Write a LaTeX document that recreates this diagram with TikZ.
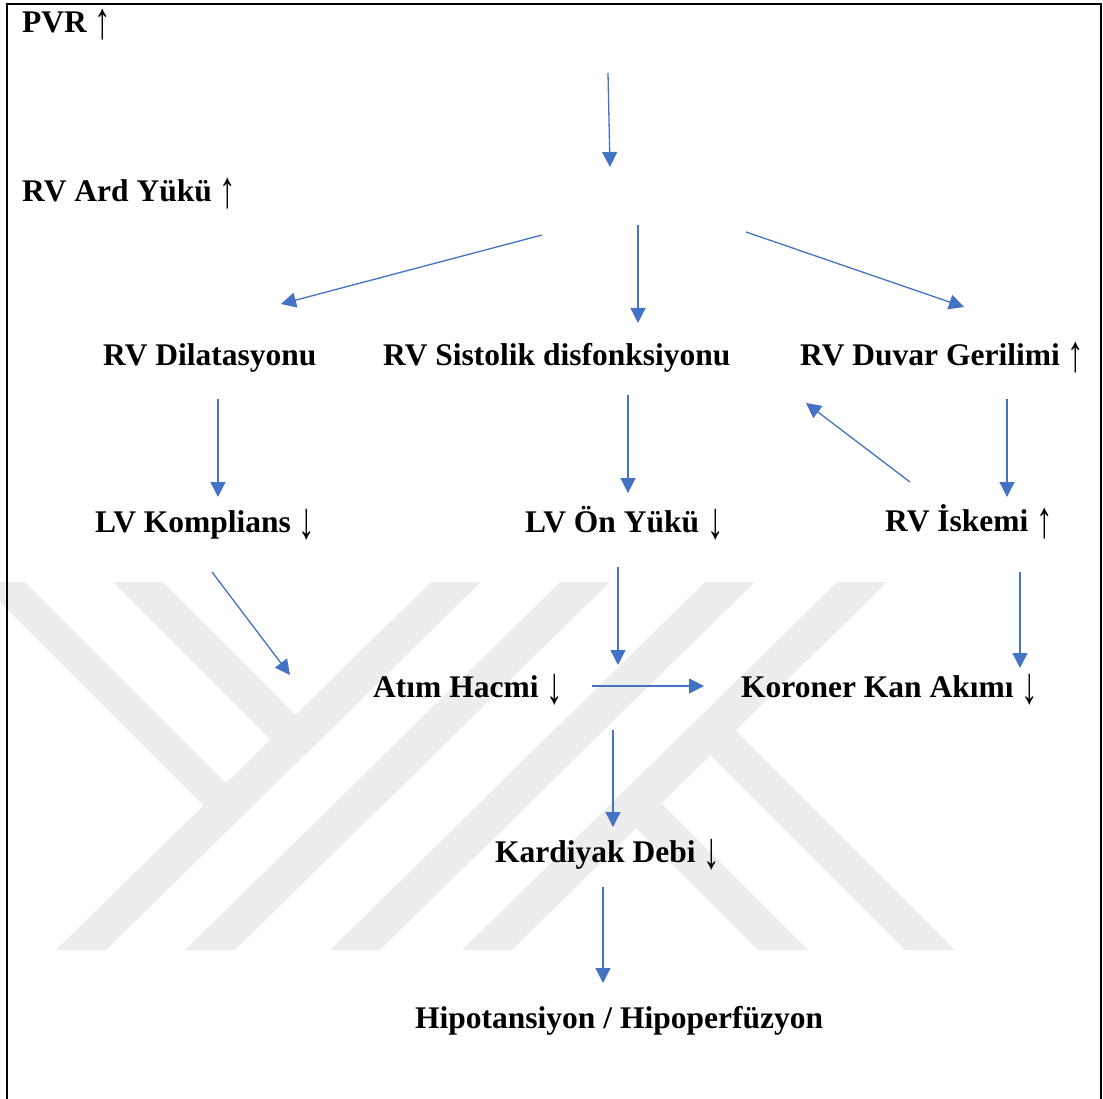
\documentclass[tikz,border=0pt]{standalone}
\usepackage{fontspec}
\usepackage{graphicx}
\setmainfont{Liberation Serif}
\usetikzlibrary{arrows.meta}
\definecolor{arrowblue}{HTML}{4472C4}
\definecolor{wmgray}{HTML}{EDEDED}
\newcommand\myup{\raisebox{-6pt}{\scalebox{1.05}[1.65]{\mdseries ↑}}}
\newcommand\mydown{\raisebox{-6pt}{\scalebox{1.05}[1.65]{\mdseries ↓}}}
\tikzset{
  lbl/.style={anchor=base west, inner sep=0pt, font=\bfseries\fontsize{31.5}{36}\selectfont},
  conn/.style={draw=arrowblue, line width=1.3pt, -{Triangle[length=15pt,width=15pt]}},
  wm/.style={fill=wmgray, draw=none},
  frame/.style={draw=black, line width=2.7pt}
}
\begin{document}
\begin{tikzpicture}[x=1pt,y=-1pt]
\useasboundingbox (0,0) rectangle (1103,1099);
\begin{scope}
\clip (0,0) rectangle (1103,1099);
% watermark
\path[wm] (-20,582) -- (25,582) -- (251,808) -- (228,830) -- cycle;
\path[wm] (113,582) -- (163,582) -- (320,740) -- (295,764) -- cycle;
\path[wm] (431,582) -- (481,582) -- (106,950) -- (56,950) -- cycle;
\path[wm] (560,582) -- (610,582) -- (235,950) -- (185,950) -- cycle;
\path[wm] (705,582) -- (755,582) -- (380,950) -- (330,950) -- cycle;
\path[wm] (837,582) -- (887,582) -- (512,950) -- (462,950) -- cycle;
\path[wm] (711,706) -- (955,950) -- (905,950) -- (686,731) -- cycle;
\path[wm] (637,779) -- (808,950) -- (758,950) -- (611,803) -- cycle;
% frame
\draw[frame] (7,1120) -- (7,4) -- (1101,4) -- (1101,1120);
\end{scope}
% labels
\node[lbl] (pvr) at (22,33) {PVR \myup};
\node[lbl] (ard) at (22,202) {RV Ard Yükü \myup};
\node[lbl] (dil) at (103,365) {RV Dilatasyonu};
\node[lbl] (sis) at (383,365) {RV Sistolik disfonksiyonu};
\node[lbl] (duv) at (800,365) {RV Duvar Gerilimi \myup};
\node[lbl] (kom) at (95,532) {LV Komplians \mydown};
\node[lbl] (onyuk) at (525,532) {LV Ön Yükü \mydown};
\node[lbl] (isk) at (885,531) {RV İskemi \myup};
\node[lbl] (atim) at (373,697) {Atım Hacmi \mydown};
\node[lbl] (kor) at (741,697) {Koroner Kan Akımı \mydown};
\node[lbl] (deb) at (495,862) {Kardiyak Debi \mydown};
\node[lbl] (hipo) at (415,1028) {Hipotansiyon / Hipoperfüzyon};
% connector end points
\coordinate (c1s) at (608,73);   \coordinate (c1e) at (610,167);
\coordinate (c2s) at (542,235);  \coordinate (c2e) at (281,304);
\coordinate (c3s) at (638,225);  \coordinate (c3e) at (638,323);
\coordinate (c4s) at (746,232);  \coordinate (c4e) at (964,307);
\coordinate (c5s) at (218,399);  \coordinate (c5e) at (218,497);
\coordinate (c6s) at (628,395);  \coordinate (c6e) at (628,493);
\coordinate (c7s) at (1007,399); \coordinate (c7e) at (1007,497);
\coordinate (c8s) at (910,482);  \coordinate (c8e) at (806,403);
\coordinate (c9s) at (212,572);  \coordinate (c9e) at (290,675);
\coordinate (c10s) at (618,567); \coordinate (c10e) at (618,665);
\coordinate (c11s) at (592,686); \coordinate (c11e) at (704,686);
\coordinate (c12s) at (1020,572);\coordinate (c12e) at (1020,668);
\coordinate (c13s) at (613,730); \coordinate (c13e) at (613,827);
\coordinate (c14s) at (603,887); \coordinate (c14e) at (603,983);
% connectors
\foreach \i in {1,...,14} { \draw[conn] (c\i s) -- (c\i e); }
\end{tikzpicture}
\end{document}
